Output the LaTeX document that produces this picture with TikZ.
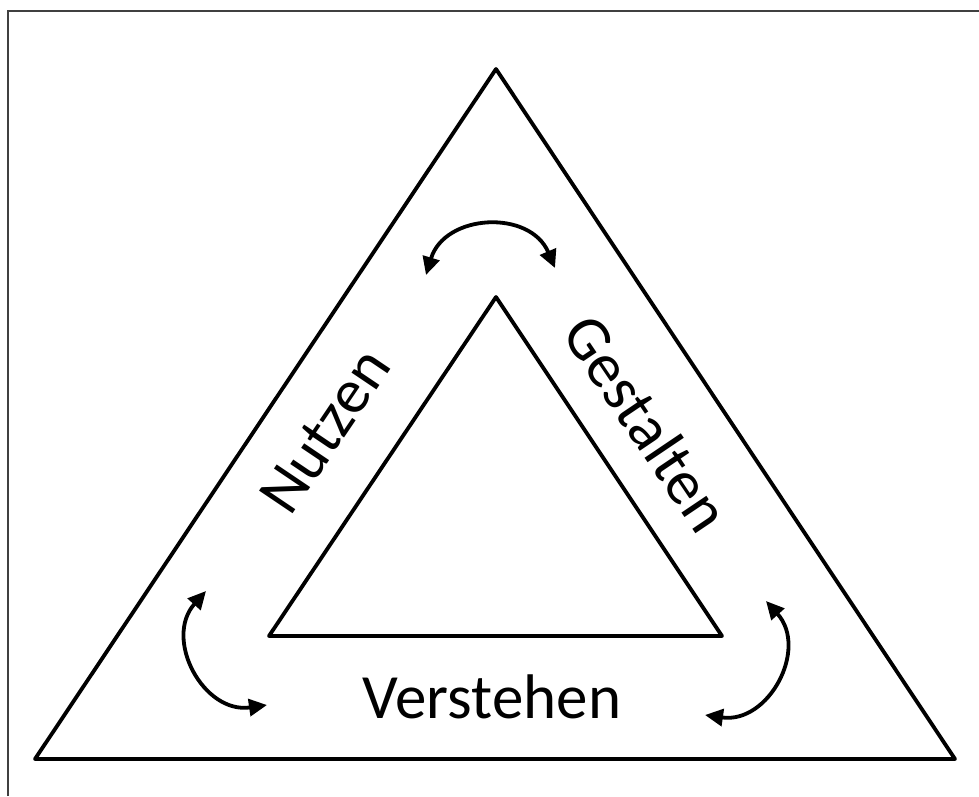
\documentclass[tikz,border=0pt]{standalone}
\usepackage{fontspec}
\setmainfont{Carlito}
\usetikzlibrary{arrows.meta,calc}

\tikzset{
  side/.style={line width=3.8pt, line join=round},
  turn/.style={line width=3.8pt,
    {Triangle[length=18pt,width=17pt]}-{Triangle[length=18pt,width=17pt]},
    bend left=70, looseness=1.27},
  word/.style={font=\fontsize{63}{66}\selectfont, inner sep=0pt}
}

\begin{document}
\begin{tikzpicture}[x=1pt,y=-1pt]
	\useasboundingbox (0,0) rectangle (979,796);

	%% frame round the page
	\draw[line width=1.5pt, black!75] (8,796) -- (8,11) -- (979,11);

	%% (A1)-(A3) outer triangle, (B1)-(B3) inner triangle
	\coordinate (A1) at (496,69);
	\coordinate (A2) at (35,759);
	\coordinate (A3) at (955,759);
	\coordinate (B1) at (496,297);
	\coordinate (B2) at (269,636);
	\coordinate (B3) at (722,636);

	\draw[side] (A1) -- (A2) -- (A3) -- cycle;
	\draw[side] (B1) -- (B2) -- (B3) -- cycle;

	%% the three words
	\node[word, rotate=56] (nutzen) at (325,431) {Nutzen};
	\node[word, rotate=-56] (gestalten) at (647,423) {Gestalten};
	\node[word] (verstehen) at (492,697) {Verstehen};

	%% ends of the curved arrows
	\coordinate (T1) at (426,275); % top
	\coordinate (T2) at (555,268);
	\coordinate (L1) at (206,591); % left
	\coordinate (L2) at (267,705);
	\coordinate (R1) at (766,601); % right
	\coordinate (R2) at (705,715);

	\draw[turn] (T1) to (T2);
	\draw[turn] (L2) to (L1);
	\draw[turn] (R1) to (R2);
\end{tikzpicture}
\end{document}
